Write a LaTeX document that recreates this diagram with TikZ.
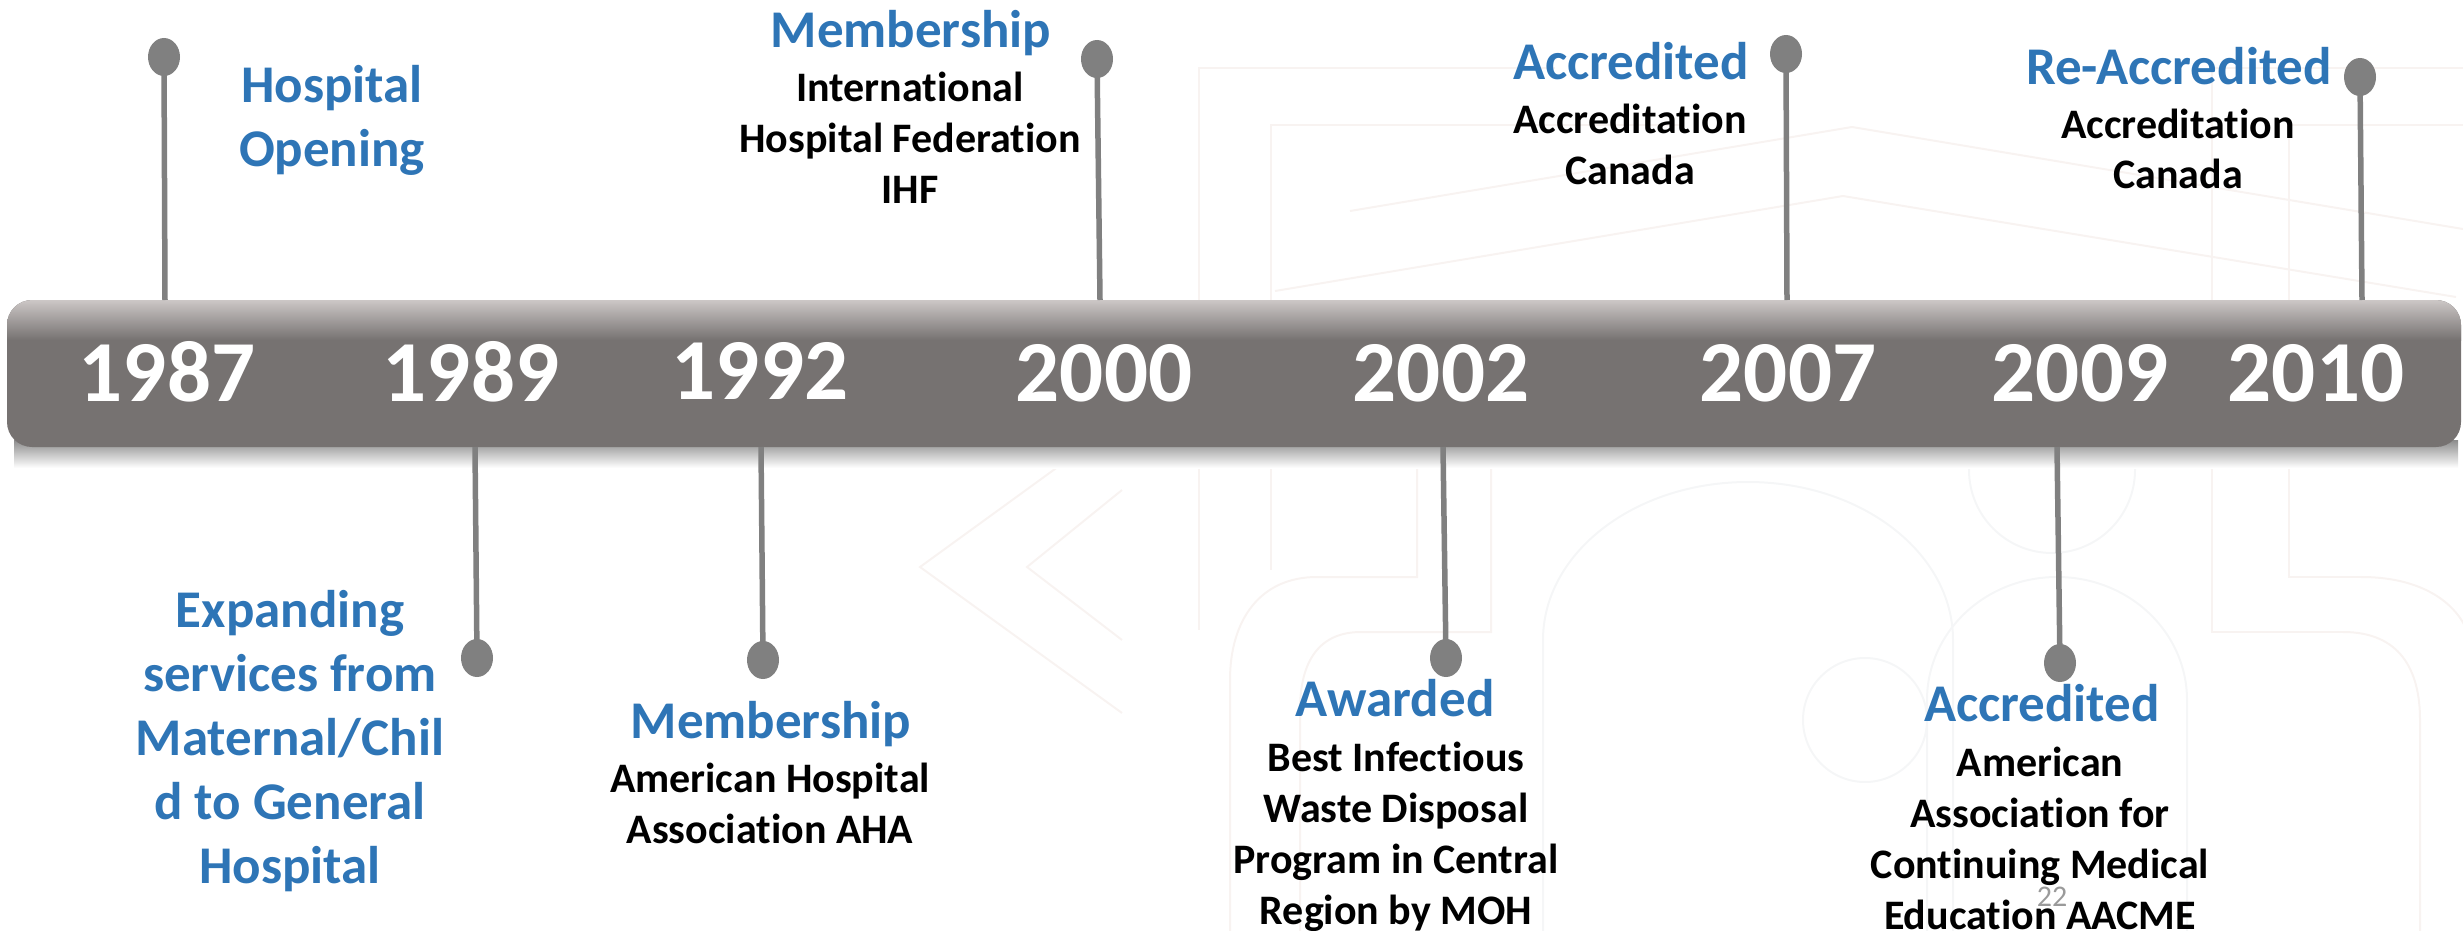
\documentclass[tikz,border=0pt]{standalone}
\usepackage{fontspec}
\setmainfont{Carlito}[Ligatures=CommonOff]
\usetikzlibrary{shapes.geometric}
\definecolor{bargray}{HTML}{767271}
\definecolor{barlight}{HTML}{CCC7C6}
\definecolor{stemgray}{HTML}{808080}
\definecolor{headblue}{HTML}{2E75B6}
\definecolor{pagegray}{HTML}{9A9A9A}
\definecolor{wmpink}{HTML}{F8F3F1}
\definecolor{wmgray}{HTML}{F5F6F7}
\tikzset{
  stemline/.style={draw=stemgray, line width=5.5pt},
  dot/.style={ellipse, fill=stemgray, minimum width=32pt, minimum height=38pt, inner sep=0pt},
  yearlabel/.style={text=white, font=\fontsize{87}{90}\selectfont\bfseries, inner sep=0pt, anchor=base},
  headlabel/.style={text=headblue, font=\fontsize{53}{64}\selectfont\bfseries, inner sep=0pt, anchor=base, align=center},
  bodylabel/.style={text=black, font=\fontsize{42}{51}\selectfont\bfseries, inner sep=0pt, anchor=base, align=center},
  wmline/.style={draw=wmpink, line width=2pt},
  wmline2/.style={draw=wmgray, line width=2pt},
}
\begin{document}
\begin{tikzpicture}[x=1pt,y=-1pt]
\useasboundingbox (0,0) rectangle (2463,931);
% faint background watermark
\begin{scope}
  \clip (0,0) rectangle (2463,931);
  \draw[wmline] (1199,630) -- (1199,68) -- (1555,68);
  \draw[wmline] (1271,570) -- (1271,125) -- (1680,125);
  \draw[wmline] (2463,68) -- (2212,68) -- (2212,632) -- (2343,632);
  \draw[wmline] (2463,125) -- (2289,125) -- (2289,577) -- (2361,577);
  \draw[wmline] (2343,632) .. controls (2400,632) and (2420,670) .. (2420,720) -- (2420,931);
  \draw[wmline] (2361,577) .. controls (2430,577) and (2463,610) .. (2470,640);
  \draw[wmline] (1417,440) -- (1417,577) -- (1317,577) .. controls (1260,577) and (1230,620) .. (1230,680) -- (1230,931);
  \draw[wmline] (1491,440) -- (1491,632) -- (1361,632) .. controls (1320,632) and (1300,660) .. (1300,710) -- (1300,931);
  \draw[wmline] (1275,291) -- (1843,196) -- (2456,297);
  \draw[wmline] (1350,211) -- (1852,127) -- (2463,229);
  \draw[wmline] (1077,453) -- (920,567) -- (1122,713);
  \draw[wmline] (1122,490) -- (1027,567) -- (1122,640);
  \draw[wmline2] (1543,931) -- (1543,640) arc[start angle=180, end angle=360, x radius=205, y radius=158] -- (1953,931);
  \draw[wmline2] (1927,931) -- (1927,700) arc[start angle=180, end angle=360, x radius=130, y radius=123] -- (2187,931);
  \draw[wmline2] (2052,470) circle[radius=83];
  \draw[wmline2] (1865,720) circle[radius=62];
\end{scope}
% shadow under the bar
\shade[top color=black!45, bottom color=white] (14,440) rectangle (2458,468);
% bar
\node[fill=bargray, rounded corners=25pt, minimum width=2454pt, minimum height=147pt, inner sep=0pt] (bar) at (1234,373.5) {};
\begin{scope}
  \clip[rounded corners=25pt] (7,300) rectangle (2461,447);
  \shade[top color=barlight, bottom color=bargray] (7,300) rectangle (2461,340);
\end{scope}
% years
\node[yearlabel] (y1987) at (167,401) {1987};
\node[yearlabel] (y1989) at (471,401) {1989};
\node[yearlabel] (y1992) at (760,399) {1992};
\node[yearlabel] (y2000) at (1104,401) {2000};
\node[yearlabel] (y2002) at (1441,401) {2002};
\node[yearlabel] (y2007) at (1788,401) {2007};
\node[yearlabel] (y2009) at (2080,401) {2009};
\node[yearlabel] (y2010) at (2316,401) {2010};
% dots
\node[dot] (d1987) at (164,57) {};
\node[dot] (d2000) at (1097,59) {};
\node[dot] (d2007) at (1786,54) {};
\node[dot] (d2010) at (2360,77) {};
\node[dot] (d1989) at (477,658) {};
\node[dot] (d1992) at (763,660) {};
\node[dot] (d2002) at (1446,658) {};
\node[dot] (d2009) at (2060,663) {};
% stems
\coordinate (s1987) at (165,300);
\coordinate (s2000) at (1100,300);
\coordinate (s2007) at (1787,300);
\coordinate (s2010) at (2362,300);
\coordinate (s1989) at (475,447);
\coordinate (s1992) at (761,447);
\coordinate (s2002) at (1443,447);
\coordinate (s2009) at (2057,447);
\draw[stemline] (d1987.center) -- (s1987);
\draw[stemline] (d2000.center) -- (s2000);
\draw[stemline] (d2007.center) -- (s2007);
\draw[stemline] (d2010.center) -- (s2010);
\draw[stemline] (d1989.center) -- (s1989);
\draw[stemline] (d1992.center) -- (s1992);
\draw[stemline] (d2002.center) -- (s2002);
\draw[stemline] (d2009.center) -- (s2009);
% top labels (anchor = baseline of last line)
\node[headlabel] (h1987) at (332,167) {Hospital\\Opening};
\node[headlabel] (h2000) at (911,48) {Membership};
\node[bodylabel] (b2000) at (910,203) {International\\Hospital Federation\\IHF};
\node[headlabel] (h2007) at (1631,80) {Accredited};
\node[bodylabel] (b2007) at (1630,184) {Accreditation\\Canada};
\node[headlabel] (h2010) at (2179,85) {Re-Accredited};
\node[bodylabel] (b2010) at (2178,189) {Accreditation\\Canada};
% bottom labels
\node[headlabel] (h1989) at (290,883) {Expanding\\services from\\Maternal/Chil\\d to General\\Hospital};
\node[headlabel] (h1992) at (771,738) {Membership};
\node[bodylabel] (b1992) at (770,843) {American Hospital\\Association AHA};
\node[headlabel] (h2002) at (1395,716) {Awarded};
\node[bodylabel] (b2002) at (1396,924) {Best Infectious\\Waste Disposal\\Program in Central\\Region by MOH};
\node[headlabel] (h2009) at (2042,721) {Accredited};
\node[bodylabel] (b2009) at (2040,929) {American\\Association for\\Continuing Medical\\Education AACME};
% page number
\node[text=pagegray, font=\fontsize{30}{32}\selectfont, inner sep=0pt, anchor=base] (pnum) at (2052,906) {22};
\end{tikzpicture}
\end{document}
